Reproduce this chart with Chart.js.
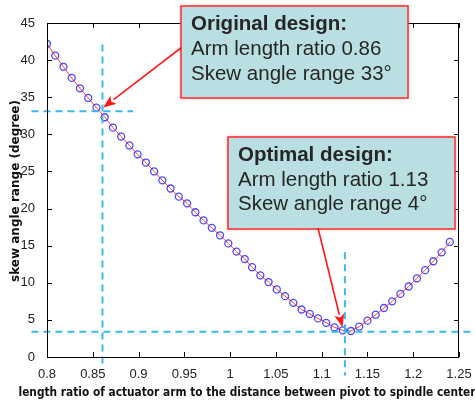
<!DOCTYPE html>
<html>
<head>
<meta charset="utf-8">
<script src="https://cdn.jsdelivr.net/npm/chart.js@4"></script>
<style>
  body { margin: 0; background: #fff; }
  canvas { display: block; }
</style>
</head>
<body>
<canvas id="skewChart" width="475" height="403"></canvas>
<script>
// length ratio (x) and skew angle range in degrees (y)
const lengthRatio = [
  0.800, 0.809, 0.818, 0.827, 0.836, 0.845, 0.854, 0.863, 0.872, 0.881,
  0.890, 0.899, 0.908, 0.917, 0.926, 0.935, 0.944, 0.953, 0.962, 0.971,
  0.980, 0.989, 0.998, 1.007, 1.016, 1.024, 1.033, 1.042, 1.051, 1.060,
  1.069, 1.078, 1.087, 1.096, 1.105, 1.114, 1.123, 1.132, 1.141, 1.150,
  1.159, 1.168, 1.177, 1.186, 1.195, 1.204, 1.213, 1.222, 1.231, 1.240
];
const skewRange = [
  42.2, 40.6, 39.1, 37.6, 36.2, 34.9, 33.6, 32.3, 30.9, 29.7,
  28.5, 27.3, 26.2, 25.0, 23.8, 22.7, 21.6, 20.7, 19.5, 18.4,
  17.4, 16.4, 15.3, 14.2, 13.2, 12.1, 11.0, 10.1, 9.1, 8.2,
  7.3, 6.4, 5.8, 5.2, 4.6, 4.0, 3.6, 3.5, 4.1, 4.9,
  5.7, 6.6, 7.5, 8.5, 9.5, 10.6, 11.7, 12.9, 14.1, 15.5
];

const xTicks = [0.8, 0.85, 0.9, 0.95, 1, 1.05, 1.1, 1.15, 1.2, 1.25];
const yTicks = [0, 5, 10, 15, 20, 25, 30, 35, 40, 45];

// guide lines (dashed)
const originalH = [{ x: 0.783, y: 33.1 }, { x: 0.894, y: 33.1 }];
const originalV = [{ x: 0.8606, y: 42.1 }, { x: 0.8606, y: -0.9 }];
const optimalH = [{ x: 0.783, y: 3.4 }, { x: 1.27, y: 3.4 }];
const optimalV = [{ x: 1.1254, y: 14.1 }, { x: 1.1254, y: -2.5 }];

const originalText = ['Original design:', 'Arm length ratio 0.86', 'Skew angle range 33°'];
const optimalText = ['Optimal design:', 'Arm length ratio 1.13', 'Skew angle range 4°'];
const originalTip = { x: 0.8614, y: 33.6 };
const optimalTip = { x: 1.1227, y: 4.0 };

const xTitle = 'length ratio of actuator arm to the distance between pivot to spindle center';
const yTitle = 'skew angle range (degree)';

const points = lengthRatio.map((x, i) => ({ x, y: skewRange[i] }));
const guideColor = '#3bb8ec';

function guide(data) {
  return {
    data,
    borderColor: guideColor,
    borderWidth: 2,
    borderDash: [7, 5],
    pointRadius: 0,
    clip: false,
    fill: false
  };
}

function drawArrow(ctx, x1, y1, x2, y2) {
  const ang = Math.atan2(y2 - y1, x2 - x1);
  const len = 13, half = 5;
  const bx = x2 - len * Math.cos(ang), by = y2 - len * Math.sin(ang);
  ctx.strokeStyle = '#ff1a1a';
  ctx.fillStyle = '#ff1a1a';
  ctx.lineWidth = 1.6;
  ctx.beginPath();
  ctx.moveTo(x1, y1);
  ctx.lineTo(bx, by);
  ctx.stroke();
  ctx.beginPath();
  ctx.moveTo(x2, y2);
  ctx.lineTo(bx + half * Math.sin(ang), by - half * Math.cos(ang));
  ctx.lineTo(bx + 3 * Math.cos(ang), by + 3 * Math.sin(ang));
  ctx.lineTo(bx - half * Math.sin(ang), by + half * Math.cos(ang));
  ctx.closePath();
  ctx.fill();
}

function drawBox(ctx, left, top, right, bottom, lines, baselines) {
  ctx.save();
  ctx.shadowColor = 'rgba(255,80,80,0.6)';
  ctx.shadowBlur = 3;
  ctx.fillStyle = '#b9dfe2';
  ctx.fillRect(left, top, right - left, bottom - top);
  ctx.restore();
  ctx.strokeStyle = '#ff2a2a';
  ctx.lineWidth = 1.5;
  ctx.strokeRect(left, top, right - left, bottom - top);
  ctx.fillStyle = '#262626';
  ctx.textAlign = 'left';
  ctx.textBaseline = 'alphabetic';
  lines.forEach((t, i) => {
    ctx.font = (i === 0 ? 'bold ' : '') + '20.5px "Liberation Sans", Arial, sans-serif';
    ctx.fillText(t, left + 10, baselines[i]);
  });
}

// draws a text line squeezed or stretched to a given width
function fitText(ctx, text, x, y, width) {
  const w = ctx.measureText(text).width;
  ctx.save();
  ctx.translate(x, y);
  ctx.scale(width / w, 1);
  ctx.fillText(text, 0, 0);
  ctx.restore();
}

const decorations = {
  id: 'decorations',
  afterDraw(chart) {
    const { ctx, chartArea: a, scales } = chart;
    const xs = scales.x, ys = scales.y;
    ctx.save();
    // frame and inward ticks, matlab style
    ctx.strokeStyle = '#000';
    ctx.lineWidth = 1;
    ctx.strokeRect(a.left + 0.5, a.top + 0.5, a.right - a.left - 1, a.bottom - a.top);
    ctx.beginPath();
    xTicks.forEach(v => {
      const px = Math.round(xs.getPixelForValue(v)) + 0.5;
      ctx.moveTo(px, a.bottom); ctx.lineTo(px, a.bottom - 5);
      ctx.moveTo(px, a.top); ctx.lineTo(px, a.top + 5);
    });
    yTicks.forEach(v => {
      const py = Math.round(ys.getPixelForValue(v)) + 0.5;
      ctx.moveTo(a.left, py); ctx.lineTo(a.left + 5, py);
      ctx.moveTo(a.right, py); ctx.lineTo(a.right - 5, py);
    });
    ctx.stroke();

    // axis titles
    ctx.fillStyle = '#111';
    ctx.font = 'bold 12px "DejaVu Sans", sans-serif';
    ctx.textAlign = 'center';
    ctx.textBaseline = 'middle';
    fitText(ctx, xTitle, 247, 393, 457);
    ctx.save();
    ctx.translate(16, 191);
    ctx.rotate(-Math.PI / 2);
    fitText(ctx, yTitle, 0, 0, 182);
    ctx.restore();

    // annotation boxes and arrows
    drawBox(ctx, 181, 6, 408, 98, originalText, [29.5, 55, 80]);
    drawArrow(ctx, 181.5, 47.5, xs.getPixelForValue(originalTip.x), ys.getPixelForValue(originalTip.y));
    drawBox(ctx, 228, 137, 455, 229, optimalText, [161, 185.5, 210]);
    drawArrow(ctx, 318, 228, xs.getPixelForValue(optimalTip.x), ys.getPixelForValue(optimalTip.y));
    ctx.restore();
  }
};

new Chart(document.getElementById('skewChart'), {
  type: 'line',
  data: {
    datasets: [
      guide(originalH), guide(originalV), guide(optimalH), guide(optimalV),
      {
        data: points,
        borderColor: '#ff3b3b',
        borderWidth: 1,
        pointRadius: 3.5,
        pointBorderColor: 'rgba(40,40,255,0.85)',
        pointBackgroundColor: 'rgba(0,0,0,0)',
        pointBorderWidth: 1.3,
        tension: 0
      }
    ]
  },
  options: {
    responsive: false,
    devicePixelRatio: 1,
    animation: false,
    layout: { padding: { top: 23, right: 16, left: 0, bottom: 0 } },
    plugins: { legend: { display: false }, tooltip: { enabled: false } },
    scales: {
      x: {
        type: 'linear',
        min: 0.8,
        max: 1.25,
        afterFit(scale) { scale.height = 46; },
        afterBuildTicks(scale) { scale.ticks = xTicks.map(v => ({ value: v })); },
        grid: { display: false },
        border: { display: false },
        ticks: {
          padding: 2,
          color: '#222',
          font: { family: '"Liberation Sans", Arial, sans-serif', size: 13 },
          callback: v => String(v)
        }
      },
      y: {
        min: 0,
        max: 45,
        afterFit(scale) { scale.width = 47; },
        afterBuildTicks(scale) { scale.ticks = yTicks.map(v => ({ value: v })); },
        grid: { display: false },
        border: { display: false },
        ticks: {
          padding: 4,
          color: '#222',
          font: { family: '"Liberation Sans", Arial, sans-serif', size: 13 },
          callback: v => String(v)
        }
      }
    }
  },
  plugins: [decorations]
});
</script>
</body>
</html>
